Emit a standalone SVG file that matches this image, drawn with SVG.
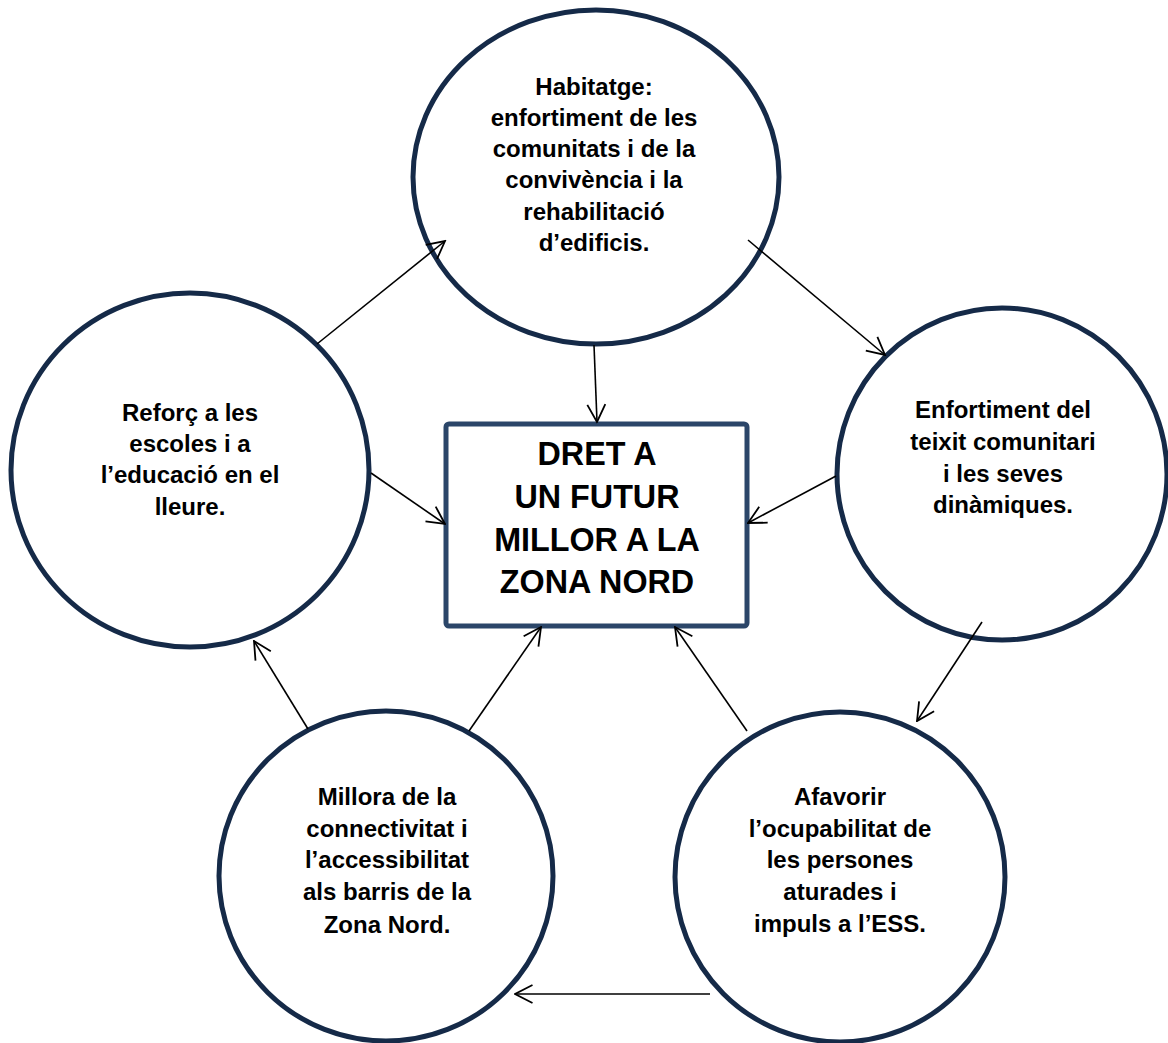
<svg xmlns="http://www.w3.org/2000/svg" width="1168" height="1043" viewBox="0 0 1168 1043">
<style>
.node ellipse{fill:#ffffff;stroke:#152a48;stroke-width:5}
.center rect{fill:#ffffff;stroke:#2b4669;stroke-width:5}
text{font-family:"Liberation Sans",Arial,sans-serif;font-weight:bold;fill:#000;text-anchor:middle}
.t{font-size:24px}
.c{font-size:32.3px}
.conn line{stroke:#000;stroke-width:1.6;fill:none;marker-end:url(#arr)}
</style>
<defs>
<marker id="arr" viewBox="0 0 20 20" refX="18.5" refY="10" markerWidth="20" markerHeight="20" markerUnits="userSpaceOnUse" orient="auto">
<path d="M1,1 L18.5,10 L1,19" fill="none" stroke="#000" stroke-width="1.8"/>
</marker>
</defs>
<rect width="1168" height="1043" fill="#ffffff"/>
<g id="node-habitatge" class="node">
<ellipse cx="596" cy="177" rx="183" ry="167"/>
<text class="t" x="594" y="95">Habitatge:</text>
<text class="t" x="594" y="126">enfortiment de les</text>
<text class="t" x="594" y="157">comunitats i de la</text>
<text class="t" x="594" y="188">convivència i la</text>
<text class="t" x="594" y="220">rehabilitació</text>
<text class="t" x="594" y="251">d’edificis.</text>
</g>
<g id="node-escoles" class="node">
<ellipse cx="190" cy="470" rx="179" ry="177"/>
<text class="t" x="190" y="421">Reforç a les</text>
<text class="t" x="190" y="452">escoles i a</text>
<text class="t" x="190" y="483">l’educació en el</text>
<text class="t" x="190" y="515">lleure.</text>
</g>
<g id="node-teixit" class="node">
<ellipse cx="1002" cy="474" rx="165" ry="166"/>
<text class="t" x="1003" y="418">Enfortiment del</text>
<text class="t" x="1003" y="450">teixit comunitari</text>
<text class="t" x="1003" y="482">i les seves</text>
<text class="t" x="1003" y="513">dinàmiques.</text>
</g>
<g id="node-connectivitat" class="node">
<ellipse cx="386" cy="876" rx="167" ry="165"/>
<text class="t" x="387" y="805">Millora de la</text>
<text class="t" x="387" y="837">connectivitat i</text>
<text class="t" x="387" y="868">l’accessibilitat</text>
<text class="t" x="387" y="900">als barris de la</text>
<text class="t" x="387" y="933">Zona Nord.</text>
</g>
<g id="node-ocupabilitat" class="node">
<ellipse cx="840" cy="877" rx="165" ry="165"/>
<text class="t" x="840" y="805">Afavorir</text>
<text class="t" x="840" y="837">l’ocupabilitat de</text>
<text class="t" x="840" y="868">les persones</text>
<text class="t" x="840" y="900">aturades i</text>
<text class="t" x="840" y="932">impuls a l’ESS.</text>
</g>
<g id="node-centre" class="center">
<rect x="446" y="424" width="301" height="202" rx="3"/>
<text class="c" x="597" y="465">DRET A</text>
<text class="c" x="597" y="508">UN FUTUR</text>
<text class="c" x="597" y="551">MILLOR A LA</text>
<text class="c" x="597" y="593">ZONA NORD</text>
</g>
<g id="connectors" class="conn">
<line x1="317" y1="344" x2="445" y2="241"/>
<line x1="748" y1="240" x2="885" y2="355"/>
<line x1="594" y1="345" x2="597" y2="422"/>
<line x1="371" y1="473" x2="445" y2="524"/>
<line x1="836" y1="476" x2="748" y2="523"/>
<line x1="982" y1="622" x2="917" y2="721"/>
<line x1="710" y1="994" x2="515" y2="994"/>
<line x1="308" y1="729" x2="254" y2="641"/>
<line x1="469" y1="731" x2="541" y2="627"/>
<line x1="747" y1="731" x2="675" y2="627"/>
</g>
</svg>
